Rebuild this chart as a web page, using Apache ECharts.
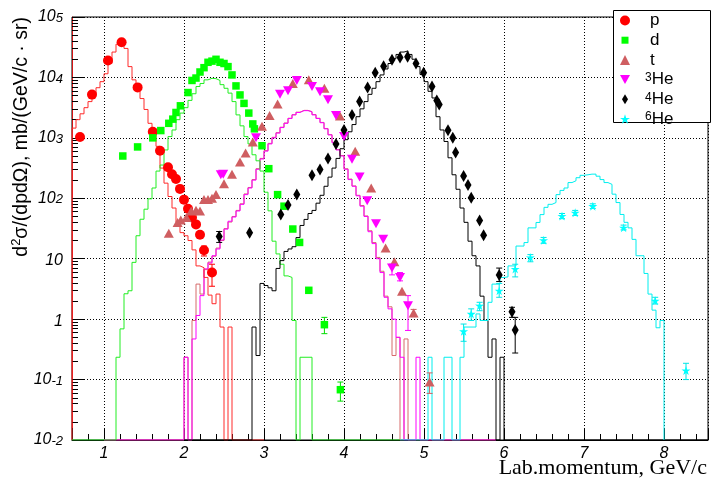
<!DOCTYPE html>
<html>
<head>
<meta charset="utf-8">
<script src="https://cdn.jsdelivr.net/npm/echarts@6/dist/echarts.min.js"></script>
<style>html,body{margin:0;padding:0;background:#fff}#c{width:714px;height:490px}</style>
</head>
<body>
<div id="c"></div>
<script>
// ---------------- data ----------------
const BIN = 0.05;
const xTicks = [1, 2, 3, 4, 5, 6, 7, 8];
const yTickExps = [-2, -1, 0, 1, 2, 3, 4, 5];

// histograms (bin width 0.05 GeV/c), value per bin starting at *Start
const pHistStart = 0.60;
const pHist = [1450, 2000, 2500, 3160, 3980, 5250, 6760, 8510, 11500, 17000, 26300, 35500, 41700, 30200, 15100, 9120, 6310, 4470, 2950, 1740, 1260, 724, 316, 178, 107, 69, 40, 27, 24, 20, 14, 7.6, 7.1, 4.9, 2.5, 1.8, 2.6, 0.74, 0, 0.74, 0, 0, 0, 0, 0, 0, 0, 0];

const dHistStart = 0.60;
const dHist = [0, 0, 0, 0, 0, 0, 0, 0, 0, 0, 0,
  0.234, 0.69, 2.63, 2.95, 8.7, 24, 45, 66, 98, 148, 282, 355, 631, 1050, 1350, 2000, 2570, 3160, 4170, 5370,
  7080, 7940, 9120, 9660, 9550, 8910, 7590, 6610, 5500, 3980, 2400, 1580, 1050, 794, 525, 417, 282, 126, 62, 19.5,
  12, 8.1, 5.2, 4.9, 0.95, 0, 0.234, 0.234, 0.234,
  0, 0, 0, 0, 0, 0, 0, 0, 0, 0, 0, 0, 0, 0, 0, 0, 0, 0, 0, 0, 0, 0];

const tHistStart = 1.00;
const tHist = [0, 0, 0, 0, 0, 0, 0, 0, 0, 0, 0, 0, 0, 0, 0, 0, 0, 0, 0, 0,
  0.234, 0, 0.95, 3.8, 2.6, 6.6, 8.8, 11.0, 15.0, 20.0, 31.5, 40.5, 50, 63, 81, 118, 151, 204, 309, 457,
  616, 810, 1020, 1220, 1500, 1760, 2110, 2420, 2660, 2850, 2850, 2720, 2430, 2110, 1800, 1430, 1130, 845, 640, 510,
  308, 208, 160, 112, 76, 51, 29, 18.5, 10.5, 6.2, 2.4, 1.6, 0.25, 0.5, 0, 0.47, 0, 0, 0,
  0, 0, 0, 0, 0, 0, 0, 0, 0, 0, 0, 0, 0, 0, 0, 0, 0, 0, 0];

const he3HistStart = 1.00;
const he3Hist = [0, 0, 0, 0, 0, 0, 0, 0, 0, 0, 0, 0, 0, 0, 0, 0, 0, 0, 0, 0,
  0.234, 0, 0.47, 1.15, 2.45, 6.8, 8.5, 11.2, 14.5, 20.4, 30.9, 41.7, 49, 61.7, 79.4, 115, 148, 200, 302, 447,
  603, 794, 1000, 1200, 1480, 1740, 2090, 2400, 2630, 2820, 2820, 2690, 2400, 2090, 1780, 1410, 1120, 832, 631, 501,
  302, 204, 158, 110, 74, 50, 28, 17.8, 10, 5.9, 2.3, 1.48, 1.0, 0.5, 0.234, 0, 0, 0, 0.234,
  0, 0, 0, 0, 0, 0, 0, 0, 0, 0, 0, 0, 0, 0, 0, 0, 0, 0, 0];

const he4HistStart = 2.00;
const he4Hist = [0, 0, 0, 0, 0, 0, 0, 0, 0, 0, 0, 0, 0, 0, 0, 0, 0,
  0.74, 0.25, 3.9, 3.6, 3.3, 2.95, 6.9, 9.3, 13.2, 14.5,
  15.8, 22.4, 35.5, 44.7, 56, 63, 83, 112, 158, 224,
  316, 457, 661, 933, 1260, 1660, 2240, 3020, 3980, 5250,
  6610, 8510, 11000, 13800, 17000, 20400, 24000, 26300, 27500, 24000,
  20000, 15100, 11200, 8510, 5890, 4570, 2240, 1350, 871, 468,
  245, 141, 69, 40, 19.5, 11.2, 7.6, 2.4, 0.95, 0.234,
  0.47, 0, 0.234,
  0, 0, 0, 0, 0, 0, 0, 0, 0, 0, 0, 0, 0, 0, 0, 0, 0, 0, 0, 0, 0, 0, 0, 0, 0,
  0, 0, 0, 0, 0, 0, 0, 0, 0, 0, 0, 0, 0, 0, 0, 0, 0, 0, 0, 0, 0, 0, 0, 0, 0, 0];

const he6HistStart = 4.70;
const he6Hist = [0, 0, 0, 0, 0, 0, 0,
  0.234, 0, 0, 0, 0.234, 0.234, 0, 0, 0.234, 0.74,
  0.74, 0.74, 1.22, 0.95, 0.95, 1.9, 3.8, 3.8, 4.9, 5.0,
  7.6, 7.6, 16.2, 16.2, 18.5, 32.4, 32.4, 39.8, 53.7, 70.8,
  79.4, 85, 115, 135, 148, 182, 195, 219, 240, 245,
  251, 251, 232, 204, 182, 170, 117, 85, 54, 40,
  32.4, 20.9, 11.2, 11.2, 5.7, 2.6, 1.41, 0.72, 0.95];

// measured points
const pX = [0.70, 0.85, 1.05, 1.22, 1.42, 1.61, 1.70, 1.80, 1.85, 1.90, 1.95, 2.00, 2.05, 2.10, 2.15, 2.20, 2.25, 2.35];
const pY = [1030, 5200, 19000, 38300, 6840, 1260, 612, 326, 250, 209, 143, 95, 67, 48, 37, 25, 13.8, 5.9];
const pErr = [[2.25, 11.1, 16.2], [2.35, 3.5, 8.1]];

const dX = [1.235, 1.42, 1.61, 1.71, 1.81, 1.86, 1.90, 1.955, 2.05, 2.10, 2.15, 2.20, 2.25, 2.30, 2.35, 2.40, 2.45, 2.50, 2.55, 2.60, 2.65, 2.70, 2.75, 2.81, 2.86, 2.88, 2.975, 3.06, 3.17, 3.25, 3.36, 3.445, 3.56, 3.755, 3.955];
const dY = [501, 708, 1000, 1320, 1740, 2040, 2630, 3390, 5620, 8910, 9770, 12300, 14500, 17800, 18600, 19950, 17800, 17000, 15100, 11000, 7240, 5130, 3720, 2570, 1700, 1410, 741, 309, 115, 74, 31, 18.6, 3.0, 0.81, 0.068];
const dErr = [[3.755, 0.575, 1.07], [3.955, 0.044, 0.091]];

const tX = [1.81, 1.92, 1.96, 2.03, 2.09, 2.15, 2.20, 2.25, 2.30, 2.35, 2.40, 2.50, 2.60, 2.70, 2.77, 2.86, 2.975, 3.07, 3.17, 3.36, 3.56, 3.755, 3.95, 4.14, 4.34, 4.52, 4.63, 4.725, 4.87, 5.07];
const tY = [26.3, 39.8, 43.7, 47.9, 61.7, 63.1, 61.7, 95.5, 95.5, 100, 115, 174, 251, 398, 562, 851, 1550, 2340, 3630, 7940, 9120, 6610, 2290, 603, 148, 15.1, 8.9, 2.9, 1.26, 0.091];
const tErr = [[4.87, 1.1, 1.45], [5.07, 0.059, 0.129]];

const he3X = [2.46, 2.49, 2.90, 3.20, 3.30, 3.41, 3.60, 3.70, 3.80, 3.90, 4.00, 4.10, 4.195, 4.29, 4.40, 4.49, 4.60, 4.70, 4.80];
const he3Y = [245, 251, 1000, 5250, 6030, 8910, 7080, 5820, 4270, 2340, 1050, 442, 224, 91, 38, 20.9, 7.0, 4.9, 1.66];
const he3Err = [[4.60, 5.4, 8.1], [4.70, 4.3, 5.9], [4.80, 0.65, 2.45]];

const he4X = [2.44, 2.82, 3.21, 3.30, 3.41, 3.60, 3.70, 3.80, 3.90, 4.00, 4.10, 4.195, 4.295, 4.39, 4.495, 4.60, 4.70, 4.795, 4.90, 4.995, 5.10, 5.16, 5.19, 5.30, 5.36, 5.395, 5.495, 5.55, 5.59, 5.695, 5.745, 5.94, 6.10, 6.14];
const he4Y = [23.4, 26.9, 53.7, 77.6, 115, 240, 299, 457, 794, 1350, 2400, 3980, 6840, 12000, 15300, 19700, 21400, 21900, 17000, 12000, 7080, 4170, 3550, 1330, 1000, 575, 234, 166, 102, 42.7, 24.5, 5.4, 1.32, 0.66];
const he4Err = [[2.44, 18.6, 28.2], [5.94, 4.2, 7.0], [6.10, 1.07, 1.57], [6.14, 0.275, 1.07]];

const he6X = [5.495, 5.59, 5.695, 5.94, 6.14, 6.33, 6.495, 6.725, 6.89, 7.11, 7.495, 7.89, 8.275];
const he6Y = [0.63, 1.22, 1.67, 2.95, 6.76, 10.5, 20.2, 50.8, 57.5, 74.1, 32.6, 2.02, 0.141];
const he6Err = [[5.495, 0.43, 0.83], [5.59, 0.95, 1.48], [5.695, 1.38, 1.9], [5.94, 2.3, 3.9], [6.14, 5.0, 8.1], [6.33, 8.9, 11.7], [6.495, 18, 22.5], [6.725, 46, 56], [6.89, 52, 63], [7.11, 68, 81], [7.495, 30, 36], [7.89, 1.78, 2.3], [8.275, 0.1, 0.186]];

// ---------------- chart ----------------
const YMIN = 0.01, YMAX = 1e5, XMIN = 0.6, XMAX = 8.55;
const FONT = 'Liberation Sans';
const STAR = 'path://M50,0 L61.17,34.63 L97.55,34.55 L68.07,55.87 L79.39,90.45 L50,69 L20.61,90.45 L31.93,55.87 L2.45,34.55 L38.83,34.63 Z';
const DOWNTRI = 'path://M0,0 L10,0 L5,9 Z';

function hist(start, vals) {
  const pts = [[start, YMIN]];
  vals.forEach((v, i) => pts.push([+(start + i * BIN).toFixed(3), v > 0 ? v : YMIN]));
  const end = +(start + vals.length * BIN).toFixed(3);
  const last = vals[vals.length - 1];
  pts.push([end, last > 0 ? last : YMIN]);
  pts.push([end, YMIN]);
  return pts;
}
function zip(xs, ys) { return xs.map((x, i) => [x, ys[i]]); }
function histSeries(name, start, vals, color) {
  return { name: name, type: 'line', step: 'end', data: hist(start, vals), showSymbol: false, symbol: 'none',
    lineStyle: { color: color, width: 1 }, itemStyle: { color: color }, silent: true, z: 2 };
}
function errSeries(name, arr, color) {
  return {
    name: name, type: 'custom', data: arr, encode: { x: 0, y: [1, 2] }, silent: true, z: 3,
    renderItem: function (params, api) {
      const x = api.value(0);
      const a = api.coord([x, api.value(1)]);
      const b = api.coord([x, api.value(2)]);
      const st = { stroke: color, lineWidth: 1 };
      return { type: 'group', children: [
        { type: 'line', shape: { x1: a[0], y1: a[1], x2: b[0], y2: b[1] }, style: st },
        { type: 'line', shape: { x1: a[0] - 3, y1: a[1], x2: a[0] + 3, y2: a[1] }, style: st },
        { type: 'line', shape: { x1: b[0] - 3, y1: b[1], x2: b[0] + 3, y2: b[1] }, style: st }
      ] };
    }
  };
}
function ptSeries(name, xs, ys, symbol, size, color) {
  return { name: name, type: 'scatter', data: zip(xs, ys), symbol: symbol, symbolSize: size,
    itemStyle: { color: color, opacity: 1 }, z: 4 };
}

const minorVals = [];
for (let e = -2; e < 5; e++) for (let k = 2; k <= 9; k++) minorVals.push(+(k * Math.pow(10, e)).toPrecision(3));

const chart = echarts.init(document.getElementById('c'), null, { renderer: 'canvas' });
chart.setOption({
  animation: false,
  backgroundColor: '#fff',
  grid: { left: 72, right: 6, top: 15, bottom: 50, show: true, borderColor: '#000', borderWidth: 1, backgroundColor: 'transparent' },
  xAxis: {
    type: 'value', min: XMIN, max: XMAX, minInterval: 1, maxInterval: 1, splitNumber: 8,
    axisLine: { show: true, onZero: false, lineStyle: { color: '#000', width: 1 } },
    axisTick: { show: true, inside: true, length: 12, lineStyle: { color: '#000' } },
    minorTick: { show: true, splitNumber: 5, length: 6, lineStyle: { color: '#000' } },
    axisLabel: {
      margin: 6, color: '#000', fontFamily: FONT, fontStyle: 'italic', fontSize: 16,
      formatter: function (v) { const r = Math.round(v); return (Math.abs(v - r) < 1e-6 && xTicks.includes(r)) ? String(r) : ''; }
    },
    splitLine: { show: true, lineStyle: { color: '#000', width: 1, type: [1, 2] } },
    minorSplitLine: { show: false }
  },
  yAxis: [{
    type: 'log', logBase: 10, min: YMIN, max: YMAX, splitNumber: 7,
    axisLine: { show: true, lineStyle: { color: '#d41414', width: 1 } },
    axisTick: { show: true, inside: true, length: 12, lineStyle: { color: '#000' } },
    axisLabel: {
      margin: 9, color: '#000', fontFamily: FONT, fontStyle: 'italic', fontSize: 16,
      formatter: function (v) {
        const e = Math.round(Math.log10(v));
        if (!yTickExps.includes(e)) return '';
        if (e === 0) return '{p|1}';
        if (e === 1) return '{p|10}';
        return '{b|10}{s|' + e + '}';
      },
      rich: {
        p: { fontFamily: FONT, fontStyle: 'italic', fontSize: 16, lineHeight: 16, padding: [4, 0, 0, 0], color: '#000' },
        b: { fontFamily: FONT, fontStyle: 'italic', fontSize: 16, lineHeight: 16, padding: [9, 0, 0, 0], verticalAlign: 'bottom', color: '#000' },
        s: { fontFamily: FONT, fontStyle: 'italic', fontSize: 13, lineHeight: 13, padding: [3, 0, 0, 0], verticalAlign: 'top', color: '#000' }
      }
    },
    splitLine: { show: true, lineStyle: { color: '#000', width: 1, type: [1, 2] } }
  }, {
    type: 'log', logBase: 10, min: YMIN, max: YMAX, position: 'left',
    axisLine: { show: false },
    axisTick: { show: true, inside: true, length: 6, customValues: minorVals, lineStyle: { color: '#000' } },
    axisLabel: { show: false },
    splitLine: { show: false }
  }],
  legend: {
    orient: 'vertical', left: 620, top: 12, padding: 0, itemGap: 2.7, itemWidth: 10, itemHeight: 10,
    selectedMode: false, z: 6,
    data: [
      { name: 'p', icon: 'circle' },
      { name: 'd', icon: 'path://M0,0L0,0M10,10L10,10M1.5,1.5L8.5,1.5L8.5,8.5L1.5,8.5Z' },
      { name: 't', icon: 'triangle' },
      { name: '3He', icon: DOWNTRI },
      { name: '4He', icon: 'path://M0,0L0,0M10,10L10,10M5,0L8,5L5,10L2,5Z' },
      { name: '6He', icon: STAR }
    ],
    formatter: function (n) { return n.length > 1 ? '{s|' + n.charAt(0) + '}{n|He}' : '{m|' + n + '}'; },
    textStyle: {
      fontFamily: FONT, fontSize: 16, color: '#000',
      rich: {
        m: { fontFamily: FONT, fontSize: 17, lineHeight: 16, padding: [0, 0, 0, 15], color: '#000' },
        s: { fontFamily: FONT, fontSize: 12, lineHeight: 12, verticalAlign: 'top', padding: [0, 0, 0, 10], color: '#000' },
        n: { fontFamily: FONT, fontSize: 17, lineHeight: 16, color: '#000' }
      }
    }
  },
  graphic: [
    { type: 'rect', z: 5, shape: { x: 613.5, y: 10.5, width: 97, height: 112 }, style: { fill: '#fff', stroke: '#000', lineWidth: 1 } },
    { type: 'text', z: 5, x: 21, y: 17, rotation: Math.PI / 2,
      style: { text: '{a|d}{u|2}{a|σ/(dpdΩ), mb/(GeV/c · sr)}', align: 'right', verticalAlign: 'middle',
        rich: { a: { fontFamily: FONT, fontSize: 19.5, lineHeight: 22, verticalAlign: 'bottom', fill: '#000' },
                u: { fontFamily: FONT, fontSize: 13, lineHeight: 14, verticalAlign: 'top', fill: '#000' } } } },
    { type: 'text', z: 5, x: 707, y: 468.5,
      style: { text: 'Lab.momentum, GeV/c', fontFamily: 'Liberation Serif', fontSize: 22, align: 'right', verticalAlign: 'middle', fill: '#000' } }
  ],
  series: [
    histSeries('t hist', tHistStart, tHist, '#d66a6a'),
    histSeries('3He hist', he3HistStart, he3Hist, '#ff00ff'),
    histSeries('p hist', pHistStart, pHist, '#ff2a2a'),
    histSeries('d hist', dHistStart, dHist, '#22ee22'),
    histSeries('4He hist', he4HistStart, he4Hist, '#000000'),
    histSeries('6He hist', he6HistStart, he6Hist, '#00eeee'),
    errSeries('p err', pErr, '#ff0000'),
    errSeries('d err', dErr, '#00dd00'),
    errSeries('t err', tErr, '#cf5e61'),
    errSeries('3He err', he3Err, '#ff00ff'),
    errSeries('4He err', he4Err, '#000000'),
    errSeries('6He err', he6Err, '#00e5e5'),
    ptSeries('p', pX, pY, 'circle', 10, '#ff0000'),
    ptSeries('d', dX, dY, 'rect', 7.5, '#00ff00'),
    ptSeries('t', tX, tY, 'triangle', [10, 9], '#cf5e61'),
    ptSeries('3He', he3X, he3Y, DOWNTRI, [10, 9], '#ff00ff'),
    ptSeries('4He', he4X, he4Y, 'diamond', [7, 12], '#000000'),
    ptSeries('6He', he6X, he6Y, STAR, [9, 9], '#00ffff')
  ]
});
</script>
</body>
</html>
